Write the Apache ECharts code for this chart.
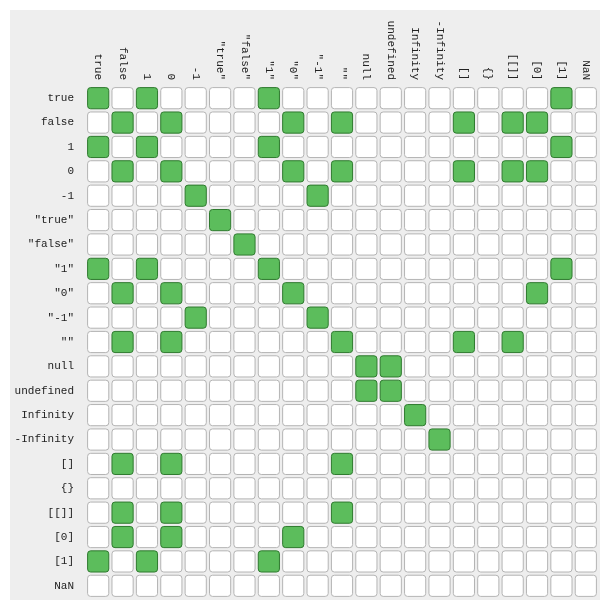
<!DOCTYPE html>
<html>
<head>
<meta charset="utf-8">
<script src="https://cdn.jsdelivr.net/npm/echarts@6/dist/echarts.min.js"></script>
<style>
  html,body{margin:0;padding:0;background:#fff;}
  #main{width:606px;height:607px;}
</style>
</head>
<body>
<div id="main"></div>
<script>
// values compared with == (same order on both axes)
var values = ['true', 'false', '1', '0', '-1', '"true"', '"false"', '"1"', '"0"', '"-1"', '""',
              'null', 'undefined', 'Infinity', '-Infinity', '[]', '{}', '[[]]', '[0]', '[1]', 'NaN'];

// 1 = green cell (row == column is true)
var matchRows = [
  [1,0,1,0,0,0,0,1,0,0,0,0,0,0,0,0,0,0,0,1,0], // true
  [0,1,0,1,0,0,0,0,1,0,1,0,0,0,0,1,0,1,1,0,0], // false
  [1,0,1,0,0,0,0,1,0,0,0,0,0,0,0,0,0,0,0,1,0], // 1
  [0,1,0,1,0,0,0,0,1,0,1,0,0,0,0,1,0,1,1,0,0], // 0
  [0,0,0,0,1,0,0,0,0,1,0,0,0,0,0,0,0,0,0,0,0], // -1
  [0,0,0,0,0,1,0,0,0,0,0,0,0,0,0,0,0,0,0,0,0], // "true"
  [0,0,0,0,0,0,1,0,0,0,0,0,0,0,0,0,0,0,0,0,0], // "false"
  [1,0,1,0,0,0,0,1,0,0,0,0,0,0,0,0,0,0,0,1,0], // "1"
  [0,1,0,1,0,0,0,0,1,0,0,0,0,0,0,0,0,0,1,0,0], // "0"
  [0,0,0,0,1,0,0,0,0,1,0,0,0,0,0,0,0,0,0,0,0], // "-1"
  [0,1,0,1,0,0,0,0,0,0,1,0,0,0,0,1,0,1,0,0,0], // ""
  [0,0,0,0,0,0,0,0,0,0,0,1,1,0,0,0,0,0,0,0,0], // null
  [0,0,0,0,0,0,0,0,0,0,0,1,1,0,0,0,0,0,0,0,0], // undefined
  [0,0,0,0,0,0,0,0,0,0,0,0,0,1,0,0,0,0,0,0,0], // Infinity
  [0,0,0,0,0,0,0,0,0,0,0,0,0,0,1,0,0,0,0,0,0], // -Infinity
  [0,1,0,1,0,0,0,0,0,0,1,0,0,0,0,0,0,0,0,0,0], // []
  [0,0,0,0,0,0,0,0,0,0,0,0,0,0,0,0,0,0,0,0,0], // {}
  [0,1,0,1,0,0,0,0,0,0,1,0,0,0,0,0,0,0,0,0,0], // [[]]
  [0,1,0,1,0,0,0,0,1,0,0,0,0,0,0,0,0,0,0,0,0], // [0]
  [1,0,1,0,0,0,0,1,0,0,0,0,0,0,0,0,0,0,0,0,0], // [1]
  [0,0,0,0,0,0,0,0,0,0,0,0,0,0,0,0,0,0,0,0,0]  // NaN
];

var cells = [];
for (var r = 0; r < matchRows.length; r++)
  for (var c = 0; c < matchRows[r].length; c++)
    cells.push([c, r, matchRows[r][c]]);

var FONT = '"Courier New", "Liberation Mono", monospace';
var chart = echarts.init(document.getElementById('main'));
chart.setOption({
  backgroundColor: '#fff',
  animation: false,
  graphic: [{
    type: 'rect', z: -10, silent: true,
    shape: {x: 10, y: 10, width: 590, height: 590},
    style: {fill: '#eeeeee'}
  }],
  grid: {left: 86, top: 86, width: 512, height: 512, containLabel: false},
  xAxis: {
    type: 'category', position: 'top', data: values,
    axisLine: {show: false}, axisTick: {show: false}, splitLine: {show: false},
    axisLabel: {rotate: 90, margin: 6, interval: 0, fontFamily: FONT, fontSize: 11, color: '#222'}
  },
  yAxis: {
    type: 'category', inverse: true, data: values,
    axisLine: {show: false}, axisTick: {show: false}, splitLine: {show: false},
    axisLabel: {margin: 12, interval: 0, fontFamily: FONT, fontSize: 11, color: '#222'}
  },
  series: [{
    type: 'custom',
    data: cells,
    renderItem: function (params, api) {
      var p = api.coord([api.value(0), api.value(1)]);
      var s = api.size([1, 1]);
      var w = s[0] - 3.2, h = s[1] - 3.2;
      var on = api.value(2) === 1;
      return {
        type: 'rect',
        shape: {x: p[0] - w / 2, y: p[1] - h / 2, width: w, height: h, r: 3},
        style: {
          fill: on ? '#5cbd5c' : '#ffffff',
          stroke: on ? '#2f7a2f' : '#b4b4b4',
          lineWidth: 1
        }
      };
    }
  }]
});
</script>
</body>
</html>
